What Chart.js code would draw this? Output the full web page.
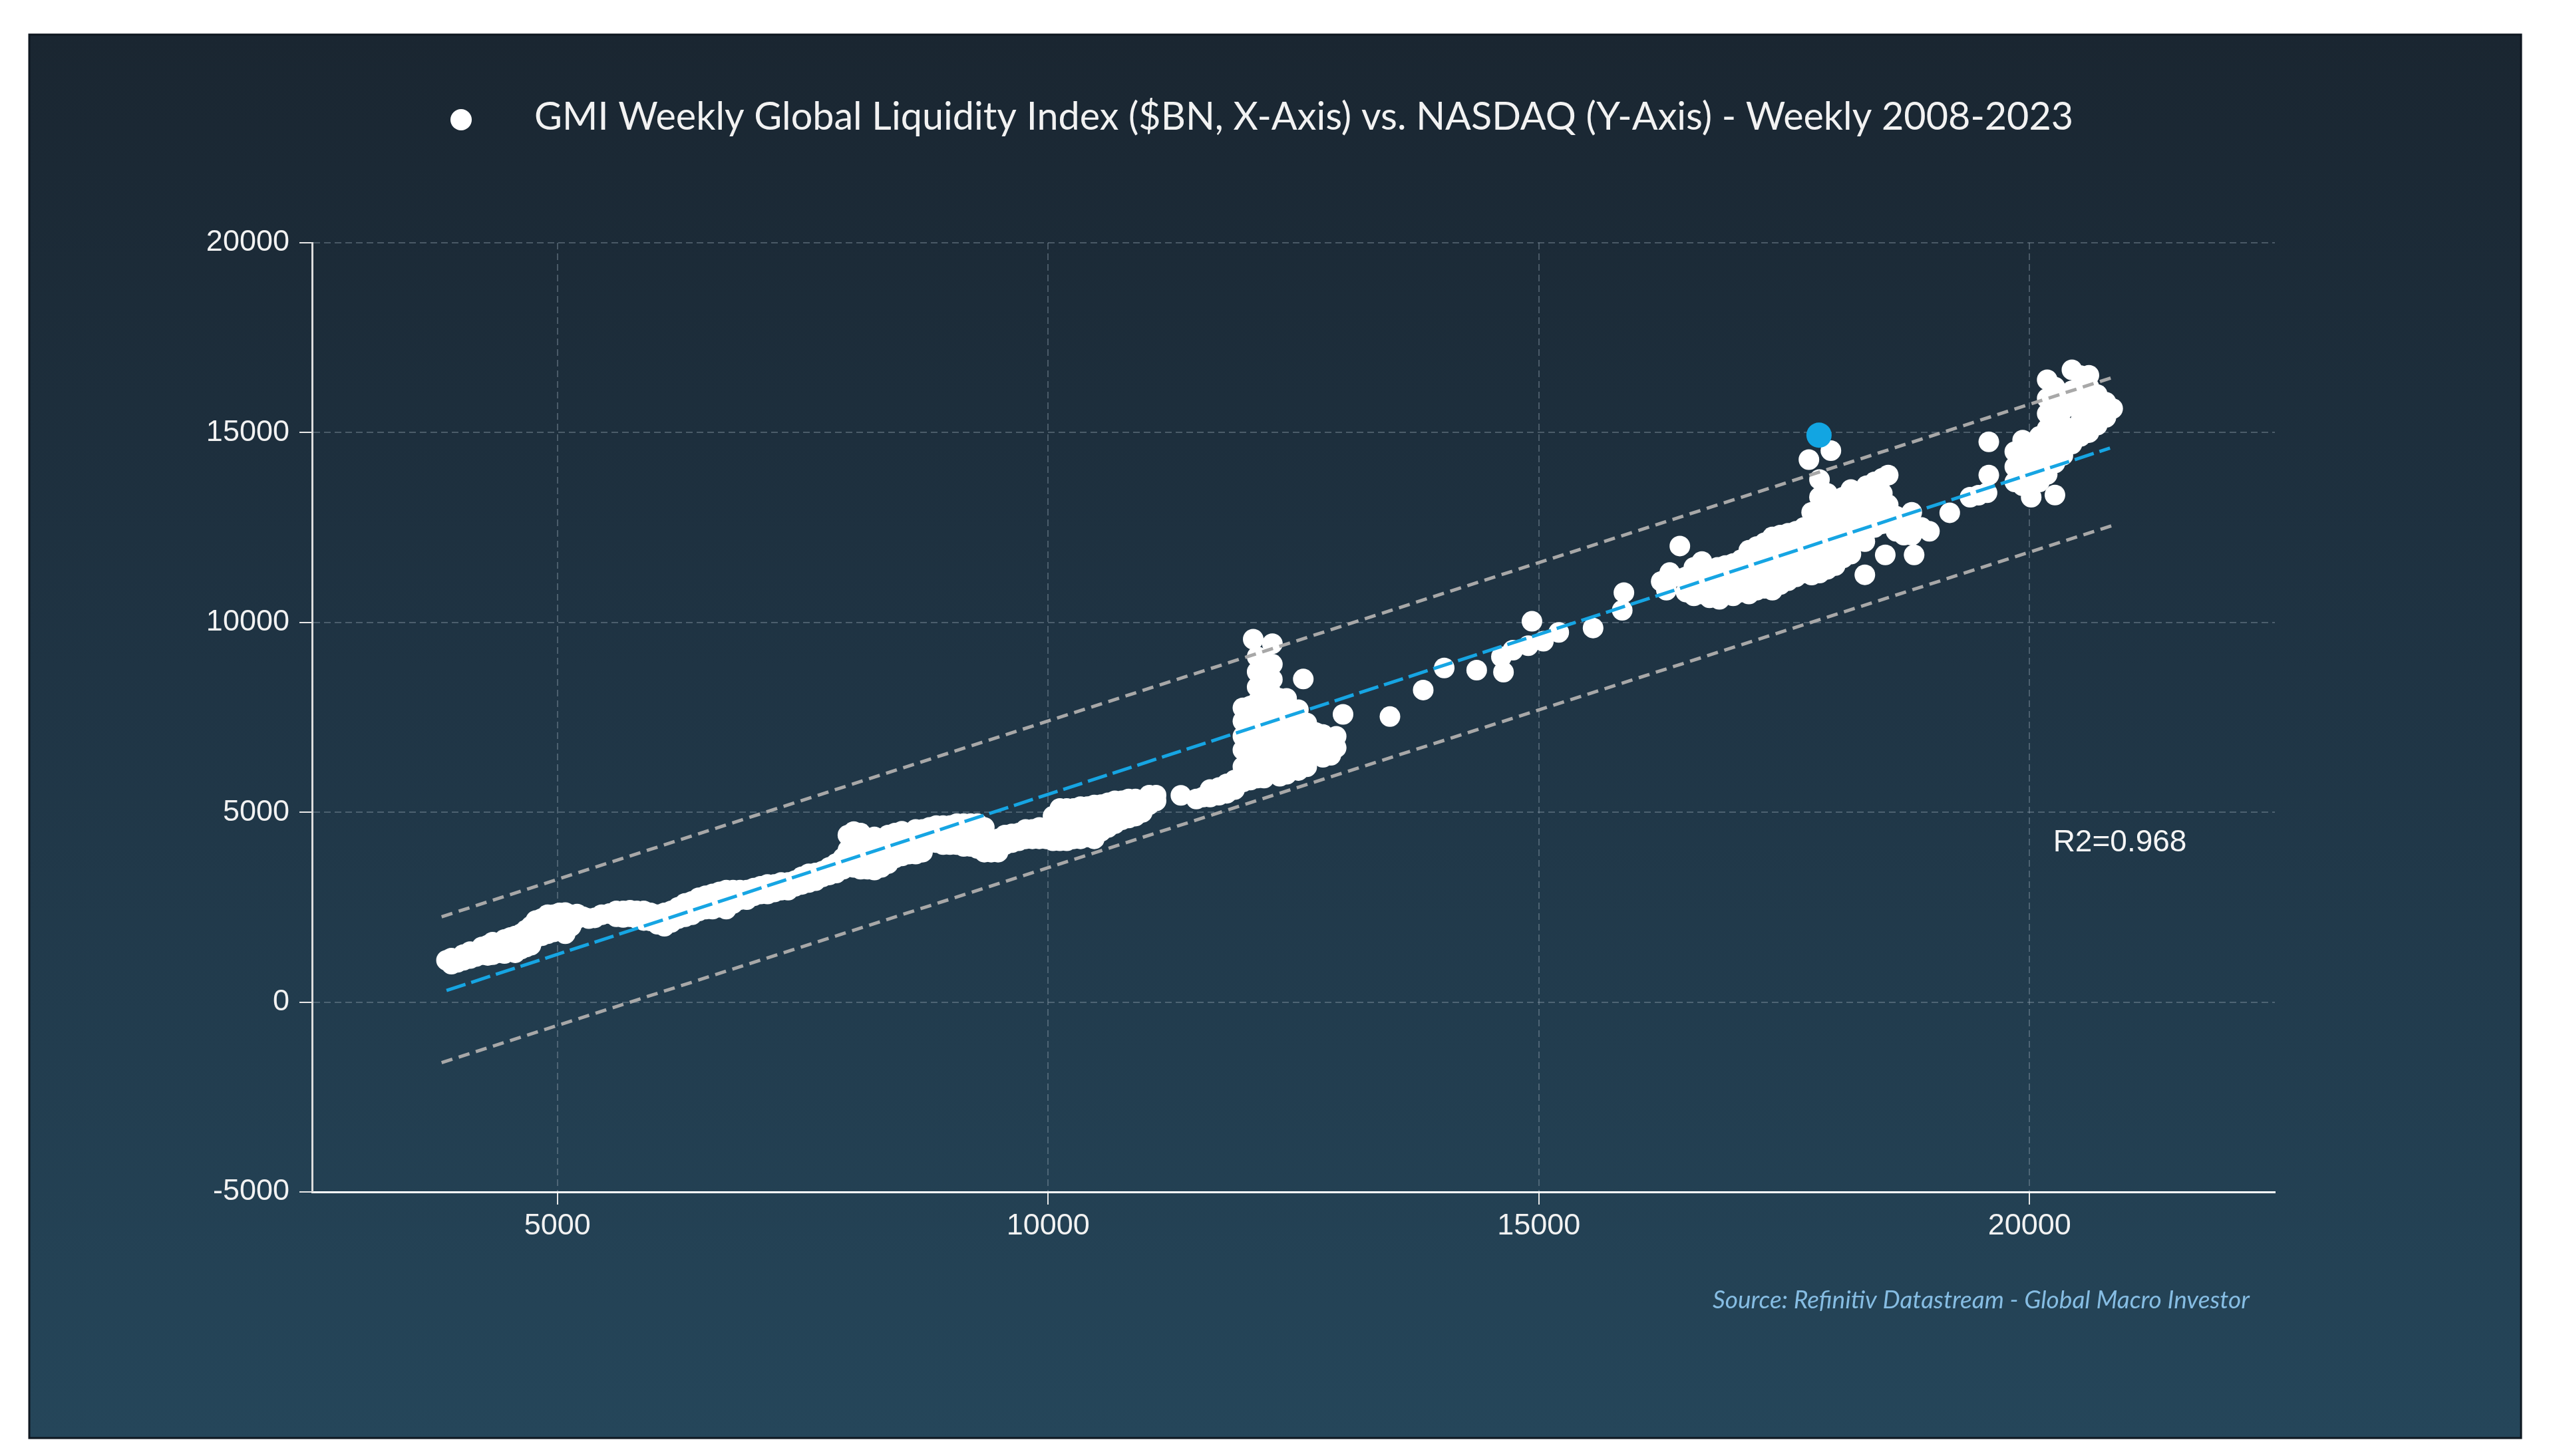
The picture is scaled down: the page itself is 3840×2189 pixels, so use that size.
<!DOCTYPE html>
<html><head><meta charset="utf-8">
<script src="https://cdn.jsdelivr.net/npm/chart.js@4.4.1/dist/chart.umd.min.js"></script>
<style>html,body{margin:0;padding:0;background:#ffffff;}canvas{display:block;}</style>
</head><body>
<canvas id="c" width="3840" height="2189"></canvas>
<script>
// GMI Weekly Global Liquidity Index ($BN) — x values
const liquidity = [
3870,3920,3920,3980,3980,4040,4040,4110,4110,4170,4170,
4230,4230,4290,4290,4340,4340,4400,4400,4460,4460,4520,4520,4570,4570,
4630,4630,4680,4680,4730,4730,4780,4780,4840,4840,4900,4900,4900,4960,4960,5020,5020,5020,
5080,5080,5080,5140,5140,5200,5200,5260,5320,5380,5450,5530,5600,5600,
5670,5670,5740,5740,5810,5810,5880,5880,5950,5950,6020,6020,6090,6090,6160,6160,
6230,6230,6300,6300,6370,6370,6440,6440,6510,6510,6580,6580,6650,6650,6720,6720,
6790,6790,6860,6860,6930,6930,7000,7000,7070,7070,7140,7140,7210,7210,7280,7280,
7350,7350,7420,7420,7490,7490,7560,7560,7630,7630,7700,7700,7770,7770,7840,7840,7910,7910,
7960,7960,7960,8020,8020,8020,8020,8090,8090,8090,8090,8160,8160,8160,8230,8230,8230,8230,
8300,8300,8300,8370,8370,8370,8440,8440,8440,8510,8510,8510,8580,8580,8580,8650,8650,8650,8720,8720,8720,
8790,8790,8860,8860,8930,8930,8930,9000,9000,9000,9070,9070,9070,9140,9140,9140,9210,9210,9210,9280,9280,9280,
9350,9350,9350,9420,9420,9490,9490,9560,9560,9630,9630,9700,9700,9770,9770,9840,9840,9910,9910,9980,9980,
10050,10050,10050,10120,10120,10120,10190,10190,10190,10260,10260,10260,10330,10330,10330,10400,10400,10400,
10470,10470,10470,10540,10540,10540,10610,10610,10610,10680,10680,10680,10750,10750,10750,10820,10820,10820,10890,10890,10890,
10960,10960,11030,11030,11100,11100,11353,11510,11580,11650,11650,11740,11740,11820,11820,11900,11900,
11985,11985,11985,11985,11985,11985,12060,12060,12060,12060,12060,12060,
12130,12130,12130,12130,12130,12130,12130,12130,12130,12090,
12200,12200,12200,12200,12200,12200,12200,12200,12200,
12285,12285,12285,12285,12285,12285,12285,12285,12285,
12360,12360,12360,12360,12360,12360,12430,12430,12430,12430,12430,12430,
12550,12550,12550,12550,12550,12600,12635,12635,12635,12635,
12725,12725,12725,12800,12800,12800,12880,12880,12935,12935,13005,
13483,13822,14036,14367,14640,14619,14736,14892,15047,15203,14930,15553,
15850,15867,16247,16300,16370,16334,16437,16662,16680,16840,
16500,16500,16580,16580,16580,16660,16660,16740,16740,16740,16820,16820,16820,16900,16900,16900,
16980,16980,16980,17060,17060,17060,17140,17140,17140,17140,17220,17220,17220,17220,17300,17300,17300,17300,
17380,17380,17380,17380,17460,17460,17460,17460,17540,17540,17540,17540,
17620,17620,17620,17620,17700,17700,17700,17700,17780,17780,17780,17780,17780,
17860,17860,17860,17860,17860,17860,17860,17940,17940,17940,17940,17940,17940,
18020,18020,18020,18020,18020,18100,18100,18100,18100,18100,18180,18180,18180,18180,18180,
17752,17976,
18260,18260,18260,18260,18340,18340,18340,18340,18420,18420,18420,18420,
18500,18500,18500,18500,18560,18560,18560,18640,18640,18720,18720,18800,18800,18900,18980,
18322,18322,18530,18824,
19187,19394,19480,19567,19585,19585,
19850,19850,19850,19930,19930,19930,19930,20017,20017,20017,20017,
20100,20100,20100,20100,20180,20180,20180,20180,20180,20180,20180,
20259,20259,20259,20259,20259,20259,20259,20340,20340,20340,20340,20340,
20432,20432,20432,20432,20432,20520,20520,20520,20520,20520,
20605,20605,20605,20605,20605,20690,20690,20690,20778,20778,20847
];
// NASDAQ — y values (same order)
const nasdaq = [
1100,1000,1160,1050,1150,1100,1250,1150,1330,1200,1300,
1250,1450,1230,1500,1250,1580,1300,1550,1280,1650,1350,1700,1300,1740,
1400,1800,1450,1900,1500,2000,1700,2150,1750,2200,1800,2050,2300,1850,2300,1900,2150,2350,
1800,2100,2360,2000,2300,2200,2320,2250,2200,2220,2300,2330,2250,2400,
2230,2400,2250,2420,2200,2400,2150,2400,2140,2350,2050,2300,2000,2350,2100,2400,
2200,2500,2250,2600,2300,2650,2400,2750,2450,2800,2450,2850,2500,2900,2450,2950,
2600,2950,2700,2950,2700,2950,2800,3000,2850,3050,2850,3100,2900,3100,2950,3150,
2950,3150,3050,3200,3100,3300,3150,3380,3200,3400,3300,3450,3350,3550,3400,3650,3500,3800,
3600,4000,4400,3550,3900,4250,4490,3500,3850,4200,4450,3500,3900,4300,3480,3800,4100,4350,
3550,3900,4250,3650,4000,4400,3800,4100,4450,3850,4200,4500,3900,4250,4450,3900,4200,4550,3950,4300,4550,
4200,4600,4200,4650,4150,4450,4650,4150,4450,4650,4150,4450,4700,4100,4400,4700,4100,4400,4700,4050,4350,4700,
3950,4300,4600,3950,4250,3950,4300,4150,4400,4200,4430,4250,4450,4300,4550,4300,4550,4300,4600,4300,4600,
4250,4600,4900,4250,4650,5100,4250,4650,5100,4300,4700,5100,4300,4700,5150,4350,4750,5150,
4300,4750,5190,4500,4850,5200,4600,4950,5250,4700,5000,5300,4800,5100,5300,4850,5150,5350,4900,5200,5350,
5000,5300,5200,5450,5300,5450,5447,5350,5400,5400,5600,5450,5650,5500,5750,5600,5850,
5800,6200,6640,7000,7400,7750,5850,6200,6600,7000,7400,7800,
5900,6300,6700,7100,7500,7900,8300,8700,9100,9560,
5900,6300,6700,7100,7500,7900,8300,8700,9000,
6100,6500,6900,7300,7700,8100,8500,8900,9440,
5950,6350,6750,7150,7550,8000,6000,6400,6800,7200,7600,8000,
6100,6500,6900,7300,7700,8510,6200,6600,7000,7350,
6500,6850,7100,6450,6800,7050,6500,6900,6700,7000,7580,
7520,8220,8800,8745,8690,9095,9270,9387,9504,9738,10030,9854,
10320,10787,11080,10850,11200,11313,12013,11605,10900,10610,
10800,11200,10700,11100,11450,10750,11200,10650,11050,11400,10700,11100,11450,10750,11150,11500,
10700,11100,11550,10800,11200,11650,10750,11150,11600,11900,10850,11250,11700,12000,10900,11300,11700,12100,
10850,11300,11750,12250,11000,11400,11850,12300,11100,11500,11900,12350,
11200,11600,12000,12400,11300,11700,12100,12500,11250,11650,12050,12450,12900,
11300,11700,12100,12500,12900,13300,13765,11400,11800,12200,12600,13000,13400,
11500,11900,12300,12700,13100,11700,12100,12500,12900,13300,11800,12200,12600,13000,13500,
14290,14524,
12200,12600,13000,13400,12400,12800,13200,13600,12500,12900,13300,13700,
12600,13000,13400,13800,12700,13100,13880,12400,12800,12300,12700,12300,12900,12500,12400,
12130,11255,11780,11780,
12889,13298,13350,13415,13882,14757,
13700,14100,14500,13600,14000,14400,14800,13298,13800,14200,14600,
13700,14100,14500,14900,13900,14300,14700,15100,15500,15900,16392,
13356,14200,14600,15000,15400,15800,16200,14400,14800,15200,15600,16000,
14700,15100,15700,16100,16655,14900,15300,15700,16100,16500,
15000,15400,15800,16200,16509,15200,15600,16000,15400,15800,15633
];
// latest week (highlighted)
const latestLiquidity = [17855];
const latestNasdaq = [14932];
// regression fit and bands (end points)
const fitLiquidity = [3870, 20820];
const fitNasdaq = [306, 14591];
const bandLiquidity = [3820, 20840];
const upperBandNasdaq = [2248, 16447];
const lowerBandNasdaq = [-1596, 12550];
// axes
const xTicks = [5000, 10000, 15000, 20000];
const yTicks = [-5000, 0, 5000, 10000, 15000, 20000];
// texts
const titleText = 'GMI Weekly Global Liquidity Index ($BN, X-Axis) vs. NASDAQ (Y-Axis) - Weekly 2008-2023';
const sourceText = 'Source: Refinitiv Datastream - Global Macro Investor';
const r2Text = 'R2=0.968';
const r2Anchor = {x: 20240, y: 4200};

if (liquidity.length !== nasdaq.length) console.error('length mismatch', liquidity.length, nasdaq.length);

const pts = (xs, ys) => xs.map((x, i) => ({x: x, y: ys[i]}));

const tickFont = {family: '"Liberation Sans", Arial, sans-serif', size: 45};

const panelPlugin = {
  id: 'panel',
  beforeDraw(chart) {
    const ctx = chart.ctx;
    ctx.save();
    const g = ctx.createLinearGradient(0, 52, 0, 2162);
    g.addColorStop(0, '#1a2631');
    g.addColorStop(0.45, '#1f3444');
    g.addColorStop(1, '#25465a');
    ctx.fillStyle = g;
    ctx.fillRect(44, 52, 3789 - 44, 2162 - 52);
    ctx.lineWidth = 3;
    ctx.strokeStyle = '#0e1720';
    ctx.strokeRect(44, 52, 3789 - 44, 2162 - 52);
    ctx.restore();
  }
};

const textPlugin = {
  id: 'texts',
  afterDraw(chart) {
    const ctx = chart.ctx;
    ctx.save();
    // legend marker + title
    ctx.fillStyle = '#ffffff';
    ctx.beginPath();
    ctx.arc(693, 180, 16, 0, Math.PI * 2);
    ctx.fill();
    let fs = 56;
    ctx.font = fs + 'px Lato, "Open Sans", sans-serif';
    fs = fs * 2312 / ctx.measureText(titleText).width;
    ctx.font = fs.toFixed(1) + 'px Lato, "Open Sans", sans-serif';
    ctx.fillStyle = '#f2f2f2';
    ctx.textAlign = 'left';
    ctx.textBaseline = 'alphabetic';
    ctx.fillText(titleText, 803, 195);
    // R2 label
    const xs = chart.scales.x, ys = chart.scales.y;
    ctx.font = '46px "Liberation Sans", Arial, sans-serif';
    ctx.fillStyle = '#f5f5f5';
    ctx.textBaseline = 'middle';
    ctx.fillText(r2Text, xs.getPixelForValue(r2Anchor.x), ys.getPixelForValue(r2Anchor.y));
    // source
    let ss = 36;
    ctx.font = 'italic ' + ss + 'px Lato, "Open Sans", sans-serif';
    ss = ss * 808 / ctx.measureText(sourceText).width;
    ctx.font = 'italic ' + ss.toFixed(1) + 'px Lato, "Open Sans", sans-serif';
    ctx.fillStyle = '#86bde3';
    ctx.textBaseline = 'alphabetic';
    ctx.fillText(sourceText, 2574, 1967);
    ctx.restore();
  }
};

new Chart(document.getElementById('c'), {
  type: 'scatter',
  data: {
    datasets: [
      {label: 'fit', data: pts(fitLiquidity, fitNasdaq), showLine: true, borderColor: '#16a5e3', borderWidth: 5, borderDash: [30, 9], pointRadius: 0, order: 0},
      {label: 'upper', data: pts(bandLiquidity, upperBandNasdaq), showLine: true, borderColor: '#a8a8a8', borderWidth: 5, borderDash: [17, 10], pointRadius: 0, order: 0},
      {label: 'lower', data: pts(bandLiquidity, lowerBandNasdaq), showLine: true, borderColor: '#a8a8a8', borderWidth: 5, borderDash: [17, 10], pointRadius: 0, order: 0},
      {label: 'latest', data: pts(latestLiquidity, latestNasdaq), pointRadius: 19, backgroundColor: '#12a5e2', borderWidth: 0, order: 1},
      {label: 'GMI Weekly Global Liquidity Index vs. NASDAQ', data: pts(liquidity, nasdaq), pointRadius: 15.5, backgroundColor: '#ffffff', borderWidth: 0, order: 2}
    ]
  },
  options: {
    responsive: false,
    animation: false,
    devicePixelRatio: 1,
    events: [],
    layout: {padding: {left: 300, right: 421, top: 365, bottom: 277}},
    plugins: {legend: {display: false}, tooltip: {enabled: false}, title: {display: false}},
    scales: {
      x: {
        type: 'linear', min: 2500, max: 22500,
        afterBuildTicks: s => { s.ticks = xTicks.map(v => ({value: v})); },
        afterFit: s => { s.height = 120; },
        ticks: {color: '#f2f2f2', font: tickFont, padding: 6, maxRotation: 0, autoSkip: false, callback: v => String(v)},
        grid: {color: 'rgba(150,165,178,0.38)', lineWidth: 2, tickColor: '#e8e8e8', tickLength: 19, tickWidth: 2},
        border: {display: true, color: '#ffffff', width: 3, dash: [10, 6]}
      },
      y: {
        type: 'linear', min: -5000, max: 20000,
        afterBuildTicks: s => { s.ticks = yTicks.map(v => ({value: v})); },
        afterFit: s => { s.width = 169; },
        ticks: {color: '#f2f2f2', font: tickFont, padding: 15, autoSkip: false, callback: v => String(v)},
        grid: {color: 'rgba(150,165,178,0.38)', lineWidth: 2, tickColor: '#e8e8e8', tickLength: 19, tickWidth: 2},
        border: {display: true, color: '#dcdcdc', width: 3, dash: [10, 6]}
      }
    }
  },
  plugins: [panelPlugin, textPlugin]
});
</script>
</body></html>
